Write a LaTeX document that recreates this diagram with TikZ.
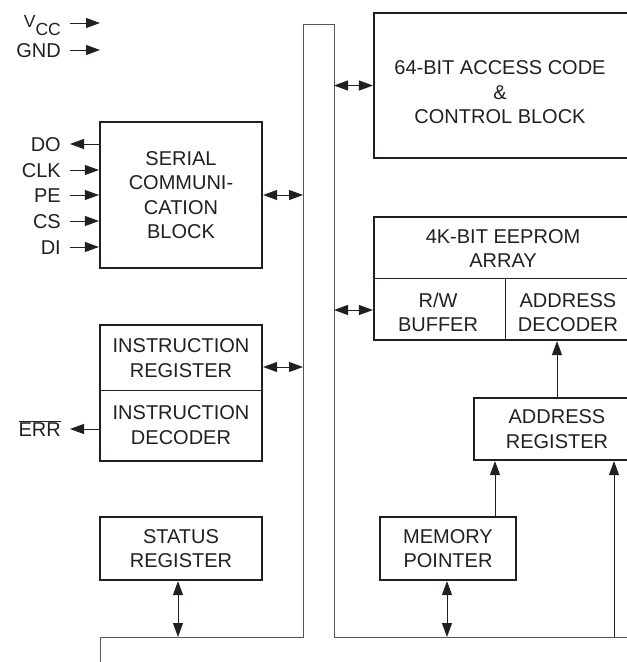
\documentclass[tikz,border=0pt]{standalone}
\usepackage{fontspec}
\setmainfont{Liberation Sans}
\usetikzlibrary{arrows.meta}
\definecolor{ink}{RGB}{35,31,32}
\definecolor{busc}{RGB}{85,85,85}
\begin{document}
\begin{tikzpicture}[x=1pt,y=-1pt,
  font=\fontsize{20}{24.5}\selectfont,
  every node/.style={text=ink},
  box/.style={draw=ink, line width=2.2pt, inner sep=0pt, align=center},
  txt/.style={align=center, inner sep=0pt},
  lbl/.style={anchor=east, inner sep=0pt, text height=14.3pt, text depth=0pt},
  divl/.style={draw=ink, line width=1pt},
  arr/.style={draw=ink, line width=1pt, -{Triangle[length=14pt,width=10pt]}},
  darr/.style={draw=ink, line width=1pt, {Triangle[length=14pt,width=10pt]}-{Triangle[length=14pt,width=10pt]}},
  bus/.style={draw=busc, line width=1pt}]
\useasboundingbox (0,0) rectangle (627,662);
\clip (0,0) rectangle (627,662);

% bus
\coordinate (busL) at (303,0);
\coordinate (busR) at (334,0);
\draw[bus] (100,668) -- (100,637) -- (303,637) -- (303,24) -- (334,24) -- (334,637) -- (645,637);

% power labels
\node[lbl] (vcc) at (61,23) {\fontsize{17.5}{20}\selectfont\raisebox{3pt}{V}\raisebox{-5pt}{CC}};
\node[lbl] (gnd) at (61,50) {GND};
\coordinate (vccT) at (100,23);
\coordinate (gndT) at (100,50);
\draw[arr] ([xshift=9pt]vcc.east) -- (vccT);
\draw[arr] ([xshift=9pt]gnd.east) -- (gndT);

% serial block
\node[box, minimum width=162pt, minimum height=146pt] (serial) at (181,195) {SERIAL\\COMMUNI-\\CATION\\BLOCK};
\node[lbl] (do) at (61,144) {DO};
\node[lbl] (clk) at (61,170) {CLK};
\node[lbl] (pe) at (61,195) {PE};
\node[lbl] (cs) at (61,221) {CS};
\node[lbl] (di) at (61,247) {DI};
\draw[arr] (serial.west |- do) -- ([xshift=9pt]do.east);
\draw[arr] ([xshift=9pt]clk.east) -- (serial.west |- clk);
\draw[arr] ([xshift=9pt]pe.east) -- (serial.west |- pe);
\draw[arr] ([xshift=9pt]cs.east) -- (serial.west |- cs);
\draw[arr] ([xshift=9pt]di.east) -- (serial.west |- di);
\draw[darr] (serial.east) -- (serial.east -| busL);

% 64-bit access code block
\node[box, minimum width=258pt, minimum height=145pt] (acc) at (503,85.5) {};
\node[txt] (acctxt) at (500,92.5) {64-BIT ACCESS CODE\\\&\\CONTROL BLOCK};
\draw[darr] (acc.west -| busR) -- (acc.west);

% EEPROM array
\node[box, minimum width=258pt, minimum height=123pt] (eep) at (503,278.5) {};
\draw[divl] (eep.west |- 0,278) -- (eep.east |- 0,278);
\draw[divl] (505,278) -- (505,340);
\node[txt] (eeptxt) at (503,248.5) {4K-BIT EEPROM\\ARRAY};
\node[txt] (rw) at (438,312.5) {R/W\\BUFFER};
\node[txt] (adec) at (568,312.5) {ADDRESS\\DECODER};
\coordinate (eepT) at (334,310);
\draw[darr] (eepT) -- (eep.west |- eepT);

% instruction register / decoder
\node[box, minimum width=162pt, minimum height=136pt] (instr) at (181,393) {};
\draw[divl] (instr.west |- 0,390) -- (instr.east |- 0,390);
\node[txt] (ireg) at (181,358) {INSTRUCTION\\REGISTER};
\node[txt] (idec) at (181,425) {INSTRUCTION\\DECODER};
\coordinate (instrT) at (303,367);
\draw[darr] (instr.east |- instrT) -- (instrT);
\node[lbl] (err) at (61,429) {$\overline{\mbox{ERR}}$};
\draw[arr] (instr.west |- err) -- ([xshift=9pt]err.east);

% status register
\node[box, minimum width=162pt, minimum height=63pt] (status) at (181,548.5) {STATUS\\REGISTER};
\coordinate (statT) at (178,637);
\draw[darr] (status.south -| statT) -- (statT);

% address register
\node[box, minimum width=166pt, minimum height=62pt] (addr) at (557,429) {ADDRESS\\REGISTER};
\draw[arr] (addr.north) -- (addr.north |- eep.south);

% memory pointer
\node[box, minimum width=136pt, minimum height=63pt] (mem) at (448,548.5) {MEMORY\\POINTER};
\coordinate (memT) at (447,637);
\draw[darr] (mem.south -| memT) -- (memT);
\coordinate (memA) at (495,0);
\draw[arr] (mem.north -| memA) -- (addr.south -| memA);
\coordinate (busA) at (614,637);
\draw[arr] (busA) -- (addr.south -| busA);
\end{tikzpicture}
\end{document}
